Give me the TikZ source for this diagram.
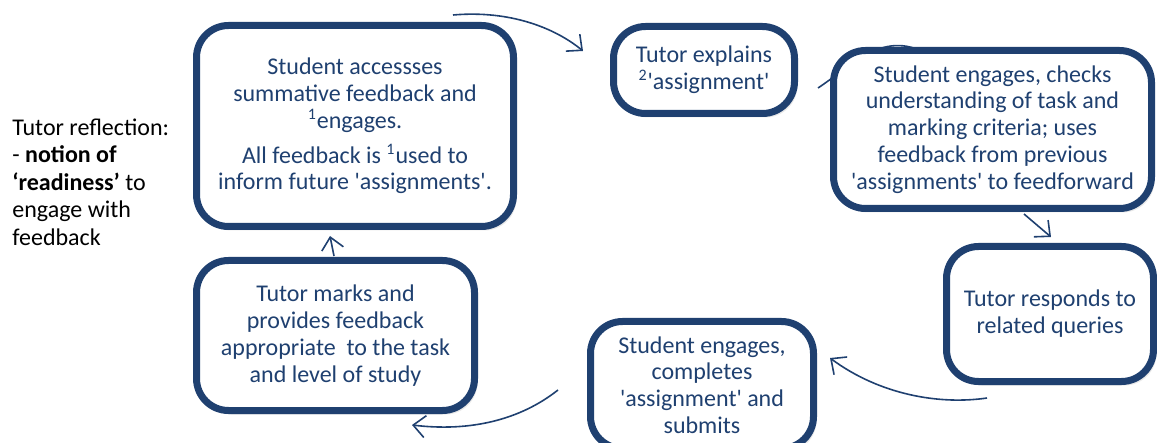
\documentclass[tikz,border=0pt]{standalone}
\usepackage{fontspec}
\setmainfont{Carlito}
\usetikzlibrary{arrows.meta,shadows}
\definecolor{boxblue}{RGB}{31,64,112}
\newcommand{\sq}{\textquotesingle}

\begin{document}
\begin{tikzpicture}[x=0.5pt,y=-0.5pt,
    stage/.style={draw=boxblue, line width=3.5pt, rounded corners=16pt, fill=white,
      text=boxblue, align=center, inner sep=0pt, font=\fontsize{12}{13.4}\selectfont,
      drop shadow={opacity=0.18, shadow xshift=1.5pt, shadow yshift=-2pt}},
    flow/.style={draw=boxblue, line width=0.8pt, -{Straight Barb[length=6pt,width=11pt]}}]
      \useasboundingbox (0,0) rectangle (1157,443);
      \coordinate (ab1) at (453,15);
      \coordinate (ab2) at (583,51);
      \coordinate (bc1) at (818,88);
      \coordinate (bc2) at (945,66);
      \coordinate (cd1) at (1024,214);
      \coordinate (cd2) at (1051,237);
      \coordinate (df1) at (987,398);
      \coordinate (df2) at (830,358);
      \coordinate (fe1) at (558,390);
      \coordinate (fe2) at (412,425);
      \coordinate (ea1) at (334,256);
      \coordinate (ea2) at (330,236);
      \draw[flow] (ab1) .. controls (510,10) and (555,28) .. (ab2);
      \draw[flow] (bc1) .. controls (860,60) and (890,22) .. (bc2);
      \draw[flow] (cd1) -- (cd2);
      \draw[flow] (df1) .. controls (940,405) and (880,395) .. (df2);
      \draw[flow] (fe1) .. controls (520,420) and (470,432) .. (fe2);
      \draw[flow] (ea1) -- (ea2);
      \node[stage, minimum width=158.5pt, minimum height=100.5pt] (access) at (355,126)
        {Student accessses\\summative feedback and\\\textsuperscript{1}engages.\\[4pt]All feedback is \textsuperscript{1}used to\\inform future \sq assignments\sq .};
      \node[stage, minimum width=90.5pt, minimum height=43.5pt] (explain) at (704,70)
        {Tutor explains\\\textsuperscript{2}\sq assignment\sq};
      \node[stage, minimum width=159pt, minimum height=79pt] (checks) at (992.5,129.5)
        {Student engages, checks\\understanding of task and\\marking criteria; uses\\feedback from previous\\\sq assignments\sq\ to feedforward};
      \node[stage, minimum width=103.5pt, minimum height=67.5pt] (queries) at (1050,314)
        {Tutor responds to\\related queries};
      \node[stage, minimum width=111.5pt, minimum height=63.5pt] (submits) at (702,385)
        {Student engages,\\completes\\\sq assignment\sq\ and\\submits};
      \node[stage, minimum width=139pt, minimum height=75pt] (marks) at (335.5,335.5)
        {Tutor marks and\\provides feedback\\appropriate\ \ to the task\\and level of study};
      \node[align=left, anchor=west, inner sep=0pt, font=\fontsize{12}{13.75}\selectfont] (reflect) at (12,182)
        {Tutor reflection:\\- \textbf{notion of}\\\textbf{`readiness'} to\\engage with\\feedback};
    \end{tikzpicture}
\end{document}
